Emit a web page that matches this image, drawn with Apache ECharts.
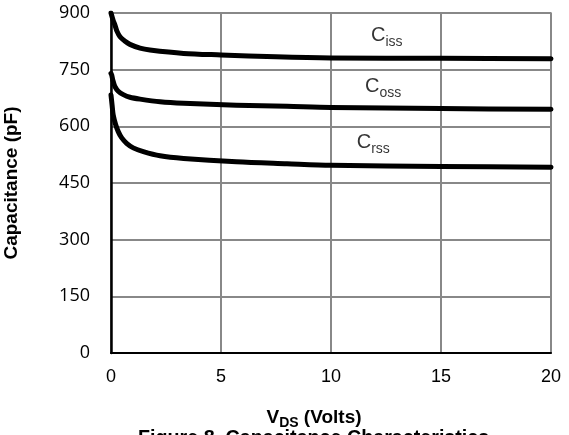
<!DOCTYPE html>
<html>
<head>
<meta charset="utf-8">
<script src="https://cdn.jsdelivr.net/npm/echarts@6/dist/echarts.min.js"></script>
<style>
  html, body { margin: 0; padding: 0; background: #fff; }
  #chart { width: 569px; height: 435px; }
</style>
</head>
<body>
<div id="chart"></div>
<script>
// Capacitance (pF) versus drain-source voltage V_DS (V)
const cissV = [0, 0.1, 0.18, 0.27, 0.41, 0.64, 0.86, 1.32, 1.77, 3.3, 5, 7.5, 10, 15, 20];
const cissPF = [900, 880, 868, 852, 837, 825, 817, 807, 802, 793, 789, 784, 781, 780, 779];

const cossV = [0, 0.03, 0.08, 0.18, 0.33, 0.56, 0.86, 1.32, 2.23, 3.3, 5.7, 8, 10, 15, 20];
const cossPF = [740, 736, 723, 705, 693, 684, 677, 672, 665, 661, 656, 653, 650, 647, 645];

const crssV = [0, 0.05, 0.1, 0.21, 0.33, 0.48, 0.71, 1.01, 1.47, 2.23, 3.3, 5.7, 8, 10, 15, 20];
const crssPF = [683, 656, 630, 605, 586, 570, 555, 543, 533, 522, 515, 506, 501, 497, 494, 492];

const xTicks = [0, 5, 10, 15, 20];
const yTicks = [0, 150, 300, 450, 600, 750, 900];

// Curve names: main letter, subscript, anchor (V, pF) of the label's top-left
const labelMain = ['C', 'C', 'C'];
const labelSub = ['iss', 'oss', 'rss'];
const labelV = [11.82, 11.55, 11.17];
const labelPF = [867, 732, 584];

const FONT = 'Liberation Sans, Arial';
const zip = (xs, ys) => xs.map((x, i) => [x, ys[i]]);

function curve(name, xs, ys) {
  return {
    name: name,
    type: 'line',
    data: zip(xs, ys),
    smooth: 0.3,
    showSymbol: false,
    clip: true,
    lineStyle: { color: '#000', width: 5, join: 'round', cap: 'round' },
    z: 5
  };
}

function curveLabel(i) {
  return {
    type: 'scatter',
    silent: true,
    symbolSize: 1,
    itemStyle: { color: 'rgba(0,0,0,0)' },
    data: [[labelV[i], labelPF[i]]],
    label: {
      show: true,
      position: 'inside',
      align: 'left',
      verticalAlign: 'top',
      formatter: '{c|' + labelMain[i] + '}{s|' + labelSub[i] + '}',
      rich: {
        c: { fontFamily: FONT, fontSize: 20, lineHeight: 20, color: '#000', verticalAlign: 'top' },
        s: { fontFamily: FONT, fontSize: 14, lineHeight: 14, color: '#000', verticalAlign: 'top', padding: [9.5, 0, 0, 0] }
      }
    },
    z: 6
  };
}

const chart = echarts.init(document.getElementById('chart'), null, { renderer: 'canvas' });
chart.setOption({
  animation: false,
  backgroundColor: '#fff',
  grid: {
    left: 111, right: 18, top: 13, bottom: 82,
    containLabel: false, outerBoundsMode: 'none',
    show: true, borderColor: '#888', borderWidth: 1.5
  },
  xAxis: {
    type: 'value', min: 0, max: 20, interval: 5,
    axisLine: { show: true, onZero: false, lineStyle: { color: '#000', width: 2 } },
    axisTick: { show: false },
    splitLine: { show: true, lineStyle: { color: '#888', width: 2 } },
    axisLabel: {
      margin: 15, color: '#000', fontFamily: FONT, fontSize: 18,
      formatter: (v) => (xTicks.includes(v) ? String(v) : '')
    },
    name: '{v|V}{d|DS}{v| (Volts)}',
    nameLocation: 'middle',
    nameGap: 55,
    nameTextStyle: {
      padding: [0, 34, 0, 0],
      rich: {
        v: { fontFamily: FONT, fontWeight: 'bold', fontSize: 19, color: '#000', verticalAlign: 'top', lineHeight: 19 },
        d: { fontFamily: FONT, fontWeight: 'bold', fontSize: 14, color: '#000', verticalAlign: 'top', lineHeight: 14, padding: [8, 0, 0, 0] }
      }
    }
  },
  yAxis: {
    type: 'value', min: 0, max: 900, interval: 150,
    axisLine: { show: true, onZero: false, lineStyle: { color: '#000', width: 2.5 } },
    axisTick: { show: false },
    splitLine: { show: true, lineStyle: { color: '#888', width: 2 } },
    axisLabel: {
      margin: 21, color: '#000', fontFamily: 'Open Sans', fontSize: 18,
      formatter: (v) => (yTicks.includes(v) ? String(v) : '')
    },
    name: 'Capacitance (pF)',
    nameLocation: 'middle',
    nameGap: 90,
    nameTextStyle: { fontFamily: FONT, fontWeight: 'bold', fontSize: 19, color: '#000' }
  },
  graphic: [{
    type: 'text',
    left: 138,
    top: 429,
    style: {
      text: 'Figure 8. Capacitance Characteristics',
      fontFamily: FONT,
      fontWeight: 'bold',
      fontSize: 19.7,
      fill: '#000'
    }
  }],
  series: [
    curve('Ciss', cissV, cissPF),
    curve('Coss', cossV, cossPF),
    curve('Crss', crssV, crssPF),
    curveLabel(0),
    curveLabel(1),
    curveLabel(2)
  ]
});
</script>
</body>
</html>
